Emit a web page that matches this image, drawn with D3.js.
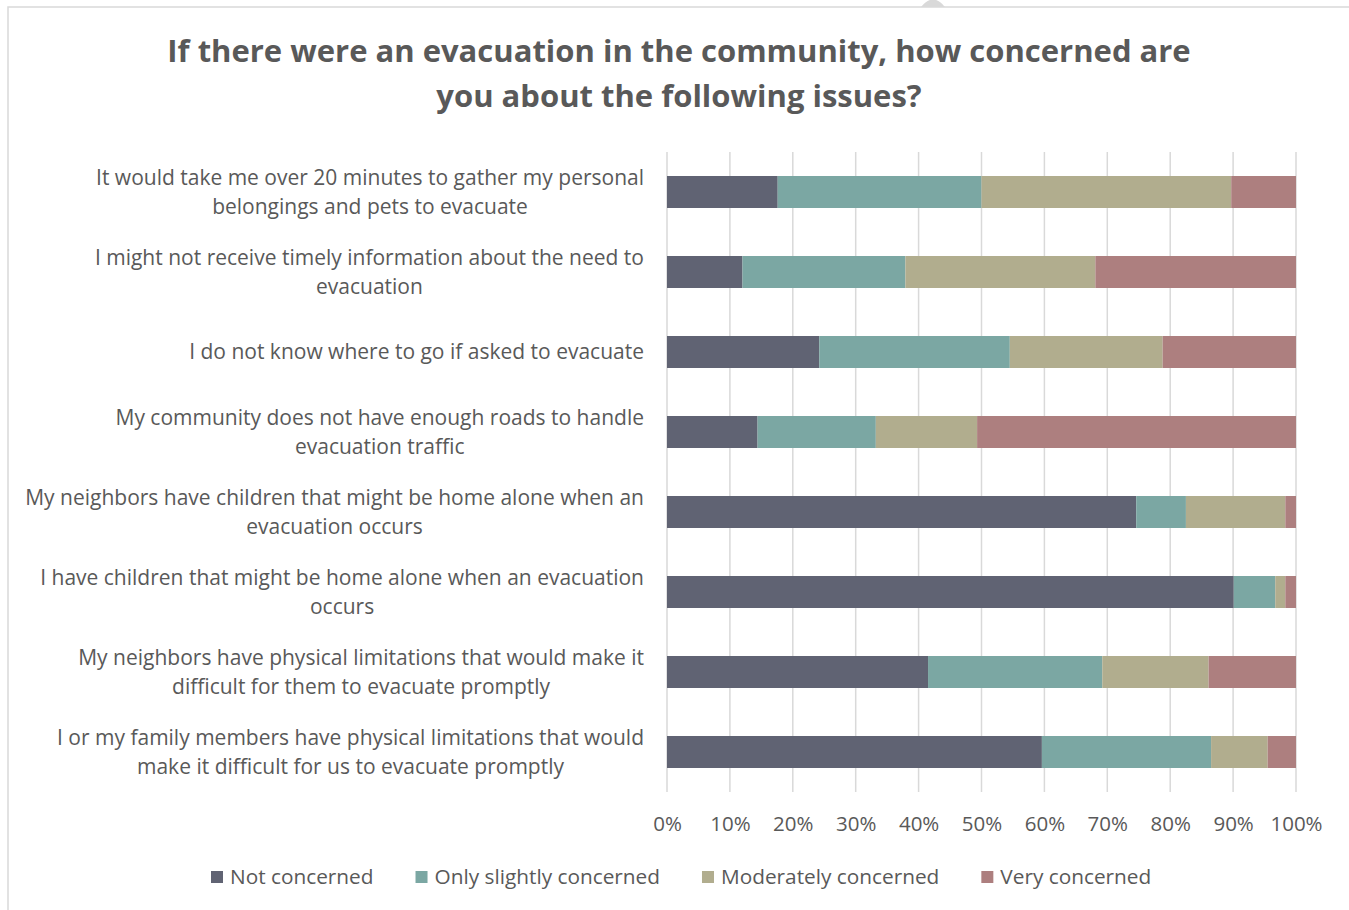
<!DOCTYPE html>
<html>
<head>
<meta charset="utf-8">
<script src="https://cdn.jsdelivr.net/npm/d3@7"></script>
<style>
  html, body { margin: 0; padding: 0; background: #fff; overflow: hidden; }
  svg text { font-family: "Open Sans", "Noto Sans", sans-serif; fill: #595959; }
</style>
</head>
<body>
<svg id="chart" width="1349" height="910"></svg>
<script>
// categories, top to bottom (each entry is the wrapped lines of the label)
var categories = [
    ["It would take me over 20 minutes to gather my personal", "belongings and pets to evacuate"],
    ["I might not receive timely information about the need to", "evacuation"],
    ["I do not know where to go if asked to evacuate"],
    ["My community does not have enough roads to handle", "evacuation traffic"],
    ["My neighbors have children that might be home alone when an", "evacuation occurs"],
    ["I have children that might be home alone when an evacuation", "occurs"],
    ["My neighbors have physical limitations that would make it", "difficult for them to evacuate promptly"],
    ["I or my family members have physical limitations that would", "make it difficult for us to evacuate promptly"]
];

var seriesNames = ["Not concerned", "Only slightly concerned", "Moderately concerned", "Very concerned"];

// percentages per category, same order as categories
var notConcerned        = [17.6, 12.0, 24.2, 14.4, 74.6, 90.1, 41.5, 59.6];
var slightlyConcerned   = [32.4, 25.9, 30.3, 18.8,  7.9,  6.6, 27.7, 26.9];
var moderatelyConcerned = [39.7, 30.2, 24.3, 16.1, 15.8,  1.6, 16.9,  9.0];
var veryConcerned       = [10.3, 31.9, 21.2, 50.7,  1.7,  1.7, 13.9,  4.5];

var tickValues = [0, 10, 20, 30, 40, 50, 60, 70, 80, 90, 100];

var colors = ["#606373", "#7ba7a3", "#b1ad8e", "#ad7f7f"];

var svg = d3.select("#chart");

// outer frame (chart area border, runs past the window on the right/bottom)
svg.append("rect")
    .attr("x", 8).attr("y", 7)
    .attr("width", 1400).attr("height", 960)
    .attr("fill", "none")
    .attr("stroke", "#d9d9d9")
    .attr("stroke-width", 1.5);
// little handle on the top edge
svg.append("path")
    .attr("d", "M921,7 Q933,-8 945,7 Z")
    .attr("fill", "#d9d9d9");

// title
var title = svg.append("text")
    .attr("text-anchor", "middle")
    .style("font-weight", "bold")
    .style("font-size", "31px");
title.append("tspan").attr("x", 679).attr("y", 62)
    .text("If there were an evacuation in the community, how concerned are");
title.append("tspan").attr("x", 679).attr("y", 107)
    .text("you about the following issues?");

var margin = {left: 667, right: 1296, top: 152, bottom: 792};

var x = d3.scaleLinear().domain([0, 100]).range([margin.left, margin.right]);
var y = d3.scaleBand()
    .domain(d3.range(categories.length))
    .range([margin.top, margin.bottom])
    .paddingInner(0.6).paddingOuter(0.3);

// gridlines
svg.append("g").selectAll("line")
    .data(tickValues)
    .enter().append("line")
    .attr("x1", function(d){ return x(d); })
    .attr("x2", function(d){ return x(d); })
    .attr("y1", margin.top)
    .attr("y2", margin.bottom)
    .attr("stroke", "#d9d9d9")
    .attr("stroke-width", 1.5);

// stack the series
var rows = categories.map(function(c, i){
    return {
        i: i,
        "Not concerned": notConcerned[i],
        "Only slightly concerned": slightlyConcerned[i],
        "Moderately concerned": moderatelyConcerned[i],
        "Very concerned": veryConcerned[i]
    };
});
var stacked = d3.stack().keys(seriesNames)(rows);

svg.append("g").selectAll("g")
    .data(stacked)
    .enter().append("g")
    .attr("fill", function(d, k){ return colors[k]; })
    .selectAll("rect")
    .data(function(d){ return d; })
    .enter().append("rect")
    .attr("x", function(d){ return x(d[0]); })
    .attr("width", function(d){ return x(Math.min(d[1], 100)) - x(d[0]); })
    .attr("y", function(d){ return y(d.data.i); })
    .attr("height", y.bandwidth());

// x axis tick labels
var xAxis = d3.axisBottom(x)
    .tickValues(tickValues)
    .tickFormat(function(d){ return d + "%"; })
    .tickSize(0).tickPadding(0);
var gx = svg.append("g").attr("transform", "translate(0," + 816 + ")").call(xAxis);
gx.select(".domain").remove();
gx.selectAll("text")
    .style("font-size", "20.5px")
    .style("font-family", "\"Open Sans\", sans-serif")
    .attr("fill", "#595959");

// category labels: centered block, longest line ends at x=644
var labels = svg.append("g");
categories.forEach(function(lines, i){
    var cy = y(i) + y.bandwidth() / 2;
    var lineH = 29;
    var t = labels.append("text")
        .attr("text-anchor", "middle")
        .style("font-size", "21px");
    var spans = lines.map(function(l, j){
        return t.append("tspan")
            .attr("y", cy - (lines.length - 1) * lineH / 2 + j * lineH)
            .attr("dy", "0.35em")
            .text(l);
    });
    var maxW = d3.max(spans, function(s){ return s.node().getComputedTextLength(); });
    spans.forEach(function(s){ s.attr("x", 644 - maxW / 2); });
});

// legend
var legend = svg.append("g");
var lx = 211;
seriesNames.forEach(function(name, k){
    legend.append("rect")
        .attr("x", lx).attr("y", 871)
        .attr("width", 12).attr("height", 12)
        .attr("fill", colors[k]);
    var t = legend.append("text")
        .attr("x", lx + 19).attr("y", 877)
        .attr("dy", "0.35em")
        .style("font-size", "20.8px")
        .text(name);
    lx += 19 + t.node().getComputedTextLength() + 42;
});
</script>
</body>
</html>
